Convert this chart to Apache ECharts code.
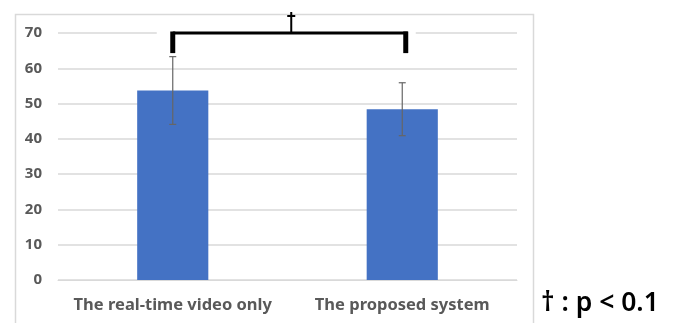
<!DOCTYPE html>
<html>
<head>
<meta charset="utf-8">
<script src="https://cdn.jsdelivr.net/npm/echarts@6/dist/echarts.min.js"></script>
<style>
  html, body { margin: 0; padding: 0; background: #fff; }
  #chart { width: 678px; height: 323px; }
</style>
</head>
<body>
<div id="chart"></div>
<script>
// Conditions compared
const categories = ['The real-time video only', 'The proposed system'];
// Mean score and standard deviation per condition
const means = [53.7, 48.4];
const sds = [9.6, 7.5];
// Y axis range and ticks
const yMin = 0;
const yMax = 70;
const yStep = 10;
// Significance bracket: from category 0 to 1, top at 70, legs down to 64.3
const bracket = [[0, 1, 70, 64.3]];
const noteText = '† : p < 0.1';

const chart = echarts.init(document.getElementById('chart'), null, { renderer: 'canvas' });

const labelFont = '"Noto Sans", "Open Sans", sans-serif';

chart.setOption({
  animation: false,
  backgroundColor: '#ffffff',
  grid: { left: 58, right: 161, top: 33, bottom: 43, containLabel: false },
  xAxis: {
    type: 'category',
    data: categories,
    axisLine: { show: true, lineStyle: { color: '#d9d9d9', width: 1 } },
    axisTick: { show: false },
    axisLabel: { interval: 0, hideOverlap: false, color: '#595959', fontWeight: 'bold', fontSize: 16.5, fontFamily: labelFont, margin: 17 }
  },
  yAxis: {
    type: 'value',
    min: yMin,
    max: yMax,
    interval: yStep,
    axisLine: { show: false },
    axisTick: { show: false },
    splitLine: { lineStyle: { color: '#d9d9d9', width: 1.5 } },
    axisLabel: { color: '#595959', fontWeight: 'bold', fontSize: 15, fontFamily: labelFont, margin: 16 }
  },
  graphic: [
    {
      type: 'rect',
      shape: { x: 15.5, y: 14.5, width: 518, height: 330 },
      style: { fill: 'none', stroke: '#d9d9d9', lineWidth: 1.5 },
      z: -1
    },
    {
      type: 'text',
      left: 541,
      top: 290,
      style: { text: noteText, font: '600 26.5px ' + labelFont, fill: '#000000' }
    }
  ],
  series: [
    {
      type: 'bar',
      data: means,
      barWidth: '31%',
      itemStyle: { color: '#4472c4' },
      z: 2
    },
    {
      // Standard deviation whiskers
      type: 'custom',
      data: means.map((m, i) => [i, m - sds[i], m + sds[i]]),
      encode: { x: 0, y: [1, 2] },
      z: 3,
      renderItem: function (params, api) {
        const lo = api.coord([api.value(0), api.value(1)]);
        const hi = api.coord([api.value(0), api.value(2)]);
        const cap = 3.5;
        const style = { stroke: '#666666', lineWidth: 1.2 };
        return {
          type: 'group',
          children: [
            { type: 'line', shape: { x1: lo[0], y1: lo[1], x2: hi[0], y2: hi[1] }, style: style },
            { type: 'line', shape: { x1: lo[0] - cap, y1: lo[1], x2: lo[0] + cap, y2: lo[1] }, style: style },
            { type: 'line', shape: { x1: hi[0] - cap, y1: hi[1], x2: hi[0] + cap, y2: hi[1] }, style: style }
          ]
        };
      }
    },
    {
      // Significance bracket with its dagger marker
      type: 'custom',
      data: bracket,
      encode: { x: [0, 1], y: [2, 3] },
      z: 4,
      renderItem: function (params, api) {
        const tl = api.coord([api.value(0), api.value(2)]);
        const tr = api.coord([api.value(1), api.value(2)]);
        const bl = api.coord([api.value(0), api.value(3)]);
        const br = api.coord([api.value(1), api.value(3)]);
        const rx = tr[0] + 3.5;
        const midX = (tl[0] + rx) / 2 + 2;
        const black = '#000000';
        return {
          type: 'group',
          children: [
            { type: 'rect', shape: { x: tl[0] - 16, y: tl[1] - 4, width: rx - tl[0] + 26, height: 8 }, style: { fill: '#ffffff' } },
            { type: 'line', shape: { x1: tl[0], y1: tl[1], x2: rx + 2, y2: tr[1] }, style: { stroke: black, lineWidth: 3 } },
            { type: 'line', shape: { x1: tl[0], y1: tl[1] - 1.5, x2: bl[0], y2: bl[1] }, style: { stroke: black, lineWidth: 5 } },
            { type: 'line', shape: { x1: rx, y1: tr[1] - 1.5, x2: rx, y2: br[1] }, style: { stroke: black, lineWidth: 5 } },
            { type: 'line', shape: { x1: midX, y1: tl[1] - 21, x2: midX, y2: tl[1] }, style: { stroke: black, lineWidth: 2 } },
            { type: 'line', shape: { x1: midX - 4, y1: tl[1] - 17, x2: midX + 4, y2: tl[1] - 17 }, style: { stroke: black, lineWidth: 2 } }
          ]
        };
      }
    }
  ]
});
</script>
</body>
</html>
